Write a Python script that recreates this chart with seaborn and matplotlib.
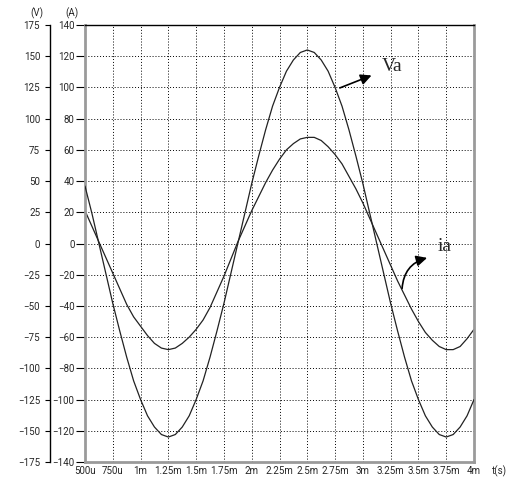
import matplotlib
matplotlib.use("Agg")
import matplotlib.pyplot as plt
import numpy as np
import pandas as pd
import seaborn as sns

# ---- data ----
t_ms = [0.5, 0.5625, 0.625, 0.6875, 0.75, 0.8125, 0.875, 0.9375,
        1.0, 1.0625, 1.125, 1.1875, 1.25, 1.3125, 1.375, 1.4375,
        1.5, 1.5625, 1.625, 1.6875, 1.75, 1.8125, 1.875, 1.9375,
        2.0, 2.0625, 2.125, 2.1875, 2.25, 2.3125, 2.375, 2.4375,
        2.5, 2.5625, 2.625, 2.6875, 2.75, 2.8125, 2.875, 2.9375,
        3.0, 3.0625, 3.125, 3.1875, 3.25, 3.3125, 3.375, 3.4375,
        3.5, 3.5625, 3.625, 3.6875, 3.75, 3.8125, 3.875, 3.9375, 4.0]
va_volts = [46, 24, 0, -24, -48, -70, -91, -110,
            -125, -138, -147, -153, -155, -153, -147, -138,
            -125, -110, -91, -70, -48, -24, 0, 24,
            48, 70, 91, 110, 125, 138, 147, 153,
            155, 153, 147, 138, 125, 110, 91, 70,
            48, 24, 0, -24, -48, -70, -91, -110,
            -125, -138, -147, -153, -155, -153, -147, -138, -125]
ia_amps = [21, 11, 1, -9, -19, -29, -39, -47,
           -53, -59, -64, -67, -68, -67, -64, -60,
           -55, -49, -41, -31, -21, -10, 1, 11,
           21, 30, 39, 47, 54, 60, 64, 67,
           68, 68, 66, 62, 57, 51, 43, 35,
           26, 16, 6, -4, -14, -24, -33, -42,
           -50, -57, -62, -66, -68, -68, -66, -61, -55]
x_ticks = [0.5, 0.75, 1.0, 1.25, 1.5, 1.75, 2.0, 2.25, 2.5, 2.75, 3.0, 3.25, 3.5, 3.75, 4.0]
x_tick_labels = ["500u", "750u", "1m", "1.25m", "1.5m", "1.75m", "2m", "2.25m",
                 "2.5m", "2.75m", "3m", "3.25m", "3.5m", "3.75m", "4m"]
v_ticks = [-175, -150, -125, -100, -75, -50, -25, 0, 25, 50, 75, 100, 125, 150, 175]
a_ticks = [-140, -120, -100, -80, -60, -40, -20, 0, 20, 40, 60, 80, 100, 120, 140]

df_v = pd.DataFrame({"t": t_ms, "Va": va_volts})
df_i = pd.DataFrame({"t": t_ms, "ia": ia_amps})

sns.set_style("white")
plt.rcParams["font.family"] = ["Roboto", "DejaVu Sans"]

W, H = 519, 482
fig = plt.figure(figsize=(W / 100, H / 100), dpi=100)
L, R, T, B = 85, 474, 25, 462
ax = fig.add_axes([L / W, 1 - B / H, (R - L) / W, (B - T) / H])

line_col = "#222222"
tick_fs = 7

# current on the A axis (main axes)
sns.lineplot(data=df_i, x="t", y="ia", ax=ax, color=line_col, lw=0.9, legend=False)
ax.set_xlim(0.5, 4.0)
ax.set_ylim(-140, 140)
ax.set_xticks(x_ticks)
ax.set_xticklabels(x_tick_labels, fontsize=tick_fs)
ax.set_yticks(a_ticks)
ax.set_yticklabels([str(v).replace("-", "\u2212") for v in a_ticks], fontsize=tick_fs)
ax.set_xlabel("")
ax.set_ylabel("")
ax.grid(True, color="black", linestyle=(0, (1, 2)), lw=0.7)
ax.tick_params(axis="x", direction="in", length=3, width=1, color="black", pad=3)
ax.tick_params(axis="y", direction="out", length=6.5, width=0.8, color="black", pad=1)
for s in ["left", "bottom", "right"]:
    ax.spines[s].set_color("#9a9a9a")
    ax.spines[s].set_linewidth(2)
ax.spines["top"].set_color("black")
ax.spines["top"].set_linewidth(1)

# voltage on the V axis (twin, spine moved to the left)
axv = ax.twinx()
sns.lineplot(data=df_v, x="t", y="Va", ax=axv, color=line_col, lw=0.9, legend=False)
axv.set_ylim(-175, 175)
axv.set_xlim(0.5, 4.0)
axv.set_ylabel("")
for s in ["top", "bottom", "right"]:
    axv.spines[s].set_visible(False)
axv.spines["left"].set_visible(True)
axv.spines["left"].set_position(("axes", -35 / (R - L)))
axv.spines["left"].set_color("black")
axv.spines["left"].set_linewidth(1)
axv.yaxis.set_ticks_position("left")
axv.yaxis.set_label_position("left")
axv.set_yticks(v_ticks)
axv.set_yticklabels([str(v).replace("-", "\u2212") for v in v_ticks], fontsize=tick_fs)
axv.tick_params(axis="y", direction="out", length=3.6, width=0.8, color="black", pad=3.5)

# unit labels
fig.text(37 / W, 1 - 13 / H, "(V)", fontsize=tick_fs, ha="center", va="center")
fig.text(72 / W, 1 - 13 / H, "(A)", fontsize=tick_fs, ha="center", va="center")
fig.text(500 / W, 1 - 471 / H, "t(s)", fontsize=tick_fs, ha="center", va="center")

# annotations
axv.annotate("", xy=(3.078, 134.6), xytext=(2.793, 124.6),
             arrowprops=dict(arrowstyle="-|>", color="black", lw=1.2,
                             mutation_scale=16, shrinkA=0, shrinkB=0))
axv.text(3.17, 141.6, "Va", fontsize=14, family="Liberation Serif", ha="left", va="center")
ax.annotate("", xy=(3.578, -9.2), xytext=(3.353, -28.8),
            arrowprops=dict(arrowstyle="-|>", color="black", lw=1.2,
                            mutation_scale=16, shrinkA=0, shrinkB=0,
                            connectionstyle="arc3,rad=-0.35"))
ax.text(3.733, -2.1, "ia", fontsize=14, family="Liberation Serif", ha="center", va="center")

fig.savefig("out.png", dpi=100)
